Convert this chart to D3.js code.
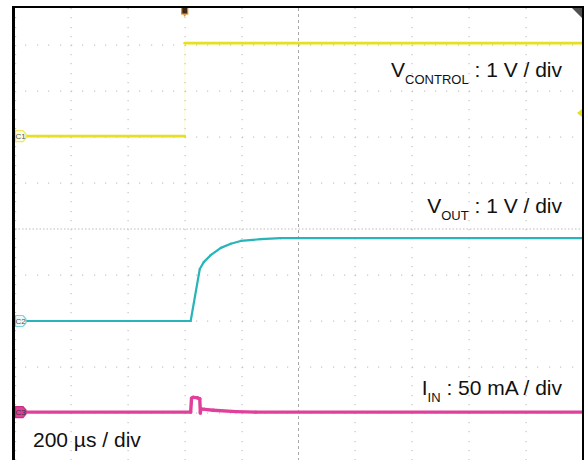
<!DOCTYPE html>
<html><head><meta charset="utf-8">
<script src="https://cdn.jsdelivr.net/npm/d3@7"></script>
<style>body{margin:0;background:#fff}svg{display:block}</style>
</head><body><svg id="c" width="584" height="460"></svg>
<script>
// ---- data ----
// time in µs relative to trigger; 200 µs/div, 10 divisions
const timeDomain = [-600, 1400];
const timePerDiv = 200;
const vertDivs = [-5, 5];

// C1: V_CONTROL, 1 V/div
const c1OffsetDiv = 2.02;
const c1Time  = [-600, 0, 0, 1400];
const c1Value = [0, 0, 2.02, 2.02];

// C2: V_OUT, 1 V/div
const c2OffsetDiv = -2.0;
const c2Time  = [-600, 21, 53, 67, 91, 127, 162, 197, 267, 337, 1400];
const c2Value = [0, 0, 1.13, 1.28, 1.43, 1.59, 1.68, 1.74, 1.78, 1.80, 1.80];

// C3: I_IN, 50 mA/div
const c3OffsetDiv = -3.98;
const c3Time  = [-600, 21, 24, 30, 45, 53, 55, 57, 70, 100, 180, 250, 1400];
const c3Value = [0, 0, 15, 16, 15.5, 14.5, -1, 3.5, 3, 2, 0.5, 0, 0];

const c1Scale = 1, c2Scale = 1, c3Scale = 50;
const triggerLevel = 0.5; // V on C1

const labels = [
  {main: "V", sub: "CONTROL", rest: " : 1 V / div", t: 1400, div: 3.3},
  {main: "V", sub: "OUT", rest: " : 1 V / div", t: 1400, div: 0.35},
  {main: "I", sub: "IN", rest: " : 50 mA / div", t: 1400, div: -3.6}
];
const timebaseLabel = "200 µs / div";

// ---- scales ----
const svg = d3.select("#c");
const x = d3.scaleLinear().domain(timeDomain).range([14, 583]);
const y = d3.scaleLinear().domain(vertDivs).range([459, -1]);

// ---- grid ----
const g = svg.append("g");
const vTicks = d3.range(timeDomain[0] + timePerDiv, timeDomain[1], timePerDiv);
const hTicks = d3.range(vertDivs[0] + 1, vertDivs[1], 1);
const centerT = (timeDomain[0] + timeDomain[1]) / 2;

vTicks.forEach(t => {
  if (t === centerT) {
    g.append("line").attr("x1", x(t)).attr("x2", x(t)).attr("y1", 8).attr("y2", 460)
      .attr("stroke", "#a8a8a8").attr("stroke-width", 1).attr("stroke-dasharray", "3,3");
  } else {
    d3.range(vertDivs[0], vertDivs[1] + 0.01, 0.2).forEach(dv => {
      const yy = y(dv);
      if (yy > 8 && yy < 460)
        g.append("rect").attr("x", Math.round(x(t)) - 0.5).attr("y", Math.round(yy)).attr("width", 1.2).attr("height", 1.2).attr("fill", "#c4c4c4");
    });
  }
});
hTicks.forEach(dv => {
  if (dv === 0) {
    g.append("line").attr("x1", 15).attr("x2", 582).attr("y1", y(dv)).attr("y2", y(dv))
      .attr("stroke", "#bdbdbd").attr("stroke-width", 1).attr("stroke-dasharray", "1.5,2");
  } else {
    d3.range(timeDomain[0], timeDomain[1] + 0.01, timePerDiv / 5).forEach(t => {
      const xx = x(t);
      if (xx > 15 && xx < 582)
        g.append("rect").attr("x", Math.round(xx)).attr("y", Math.round(y(dv)) - 0.5).attr("width", 1.2).attr("height", 1.2).attr("fill", "#c4c4c4");
    });
  }
});
// small ticks along left border
d3.range(vertDivs[0], vertDivs[1] + 0.01, 0.2).forEach(dv => {
  const yy = y(dv);
  if (yy > 10) g.append("rect").attr("x", 15).attr("y", Math.round(yy)).attr("width", 1.2).attr("height", 1.2).attr("fill", "#c8c8c8");
});

// ---- traces ----
function trace(times, values, offset, scale, color, width) {
  const pts = times.map((t, i) => [x(t), y(offset + values[i] / scale)]);
  for (let i = 0; i < pts.length - 1; i++) {
    const a = pts[i], b = pts[i + 1];
    const steep = Math.abs(b[0] - a[0]) < 0.5 && Math.abs(b[1] - a[1]) > 20;
    svg.append("line").attr("x1", a[0]).attr("y1", a[1]).attr("x2", b[0]).attr("y2", b[1])
      .attr("stroke", color).attr("stroke-width", steep ? 1 : width)
      .attr("stroke-opacity", steep ? 0.15 : 1).attr("stroke-linecap", "round");
  }
}
trace(c1Time, c1Value, c1OffsetDiv, c1Scale, "#e6e020", 2.8);
trace(c2Time, c2Value, c2OffsetDiv, c2Scale, "#28b4b8", 2.2);
trace(c3Time, c3Value, c3OffsetDiv, c3Scale, "#e0409a", 3.4);

// ---- channel badges ----
const badges = [
  {name: "C1", off: c1OffsetDiv, stroke: "#f0e860", fill: "#fffbe0", txt: "#555"},
  {name: "C2", off: c2OffsetDiv, stroke: "#80d4d8", fill: "#eefafa", txt: "#555"},
  {name: "C3", off: c3OffsetDiv, stroke: "#c8307f", fill: "#e0409a", txt: "#333"}
];
badges.forEach(b => {
  const yy = y(b.off);
  svg.append("path")
    .attr("d", `M15.5,${yy-5.5} L23,${yy-5.5} L26,${yy-2} L26,${yy+2} L23,${yy+5.5} L15.5,${yy+5.5} Z`)
    .attr("fill", b.fill).attr("stroke", b.stroke).attr("stroke-width", 1.2);
  svg.append("text").attr("x", 20.5).attr("y", yy + 3).attr("text-anchor", "middle")
    .attr("font-family", "Liberation Sans, Arial, sans-serif").attr("font-size", 8)
    .attr("fill", b.txt).text(b.name);
});

// trigger level marker (right edge)
const ty = y(c1OffsetDiv + triggerLevel / c1Scale);
svg.append("path").attr("d", `M582,${ty-4} L577,${ty} L582,${ty+4} Z`).attr("fill", "#e6e020");

// trigger position marker (top)
const tx = x(0);
svg.append("rect").attr("x", tx - 3).attr("y", 7).attr("width", 6).attr("height", 7)
  .attr("fill", "#3a2a1a").attr("stroke", "#e08a20").attr("stroke-width", 1.2);
svg.append("path").attr("d", `M${tx-1.5},14.5 L${tx+1.5},14.5 L${tx},17 Z`).attr("fill", "#f08a20");

// ---- frame ----
svg.append("line").attr("x1", 13.5).attr("x2", 13.5).attr("y1", 6).attr("y2", 460).attr("stroke", "#000").attr("stroke-width", 3);
svg.append("line").attr("x1", 12).attr("x2", 584).attr("y1", 7).attr("y2", 7).attr("stroke", "#000").attr("stroke-width", 2);
svg.append("line").attr("x1", 583.5).attr("x2", 583.5).attr("y1", 6).attr("y2", 460).attr("stroke", "#000").attr("stroke-width", 3);
svg.append("path").attr("d", "M572,8 L582,8 L582,18 Z").attr("fill", "#505050");

// ---- labels ----
const font = "Liberation Sans, Arial, sans-serif";
labels.forEach(l => {
  const t = svg.append("text").attr("x", x(l.t) - 21).attr("y", y(l.div))
    .attr("text-anchor", "end").attr("font-family", font).attr("font-size", 21).attr("fill", "#111");
  t.append("tspan").text(l.main);
  t.append("tspan").attr("font-size", 13).attr("dy", 7).text(l.sub);
  t.append("tspan").attr("dy", -7).text(l.rest);
});
svg.append("text").attr("x", 33).attr("y", 447).attr("font-family", font).attr("font-size", 21)
  .attr("fill", "#111").text(timebaseLabel);
</script></body></html>
